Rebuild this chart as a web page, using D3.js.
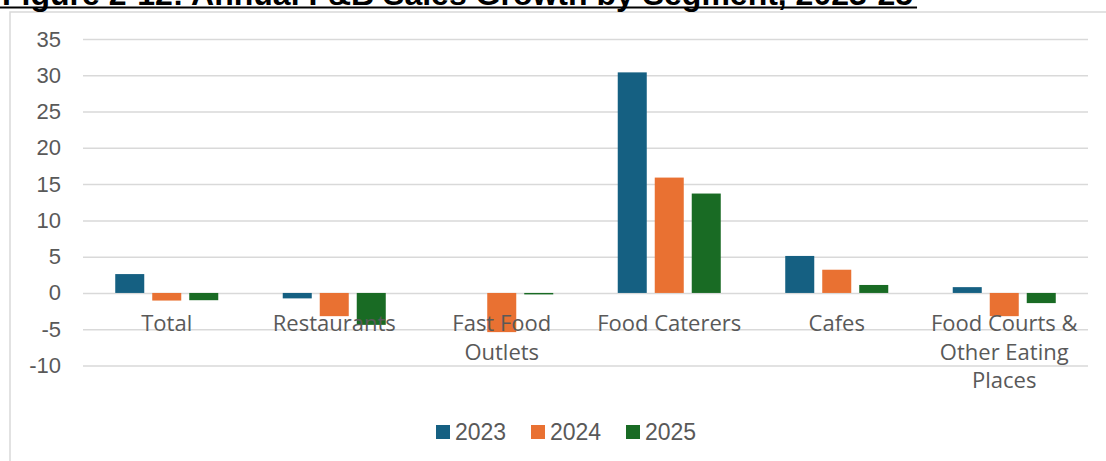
<!DOCTYPE html>
<meta charset="utf-8">
<head>
    <title>Annual F&amp;B Sales Growth by Segment</title>
    <script src="https://cdn.jsdelivr.net/npm/d3@7"></script>
</head>

<style>
    body { margin: 0; background: #fff; }
    .grid line { stroke: #D9D9D9; stroke-width: 1.5; }
    .grid text { fill: #595959; font-family: "Liberation Sans", Arial, sans-serif; font-size: 22px; }
    .cat { fill: #595959; font-family: "Open Sans", sans-serif; font-size: 22px; }
    .legend text { fill: #595959; font-family: "Liberation Sans", Arial, sans-serif; font-size: 23px; }
</style>

<svg></svg>

<script>
    // chart data
    var title = "Figure 2-12: Annual F&B Sales Growth by Segment, 2023-25";
    var categories = ["Total", "Restaurants", "Fast Food Outlets", "Food Caterers", "Cafes", "Food Courts & Other Eating Places"];
    var years = ["2023", "2024", "2025"];
    var growth2023 = [2.6, -0.75, null, 30.4, 5.1, 0.8];
    var growth2024 = [-1.05, -3.2, -5.4, 15.9, 3.2, -3.2];
    var growth2025 = [-1.0, -4.4, -0.2, 13.7, 1.1, -1.4];
    var yTicks = [-10, -5, 0, 5, 10, 15, 20, 25, 30, 35];
    var colors = ["#156082", "#E97132", "#196B24"];

    var vWidth = 1106, vHeight = 461;
    var plotLeft = 83, plotRight = 1088, plotTop = 39, plotBottom = 365.5;

    var svg = d3.select('svg').attr('width', vWidth).attr('height', vHeight);

    // chart area border and title
    svg.append('rect')
        .attr('x', 10).attr('y', 12).attr('width', 1120).attr('height', 470)
        .attr('fill', 'none').attr('stroke', '#D9D9D9').attr('stroke-width', 1.5);

    var t = svg.append('text')
        .attr('x', 2).attr('y', 5)
        .style('font-family', '"Liberation Sans", Arial, sans-serif')
        .style('font-weight', 'bold').style('font-size', '32px')
        .text(title);
    var tw = t.node().getComputedTextLength();
    svg.append('line')
        .attr('x1', 0).attr('x2', 6 + tw).attr('y1', 7.5).attr('y2', 7.5)
        .attr('stroke', '#000').attr('stroke-width', 2);

    // scales
    var y = d3.scaleLinear().domain([-10, 35]).range([plotBottom, plotTop]);
    var x0 = d3.scaleBand().domain(categories).range([plotLeft, plotRight]);
    var half = x0.bandwidth() * 0.3075;
    var x1 = d3.scaleBand().domain(years).range([-half, half]).paddingInner(0.216);

    svg.append('g')
        .attr('class', 'grid')
        .attr('transform', 'translate(' + plotLeft + ',0)')
        .call(d3.axisLeft(y).tickValues(yTicks).tickFormat(function (d) { return String(d); })
            .tickSize(-(plotRight - plotLeft)).tickPadding(22))
        .call(function (g) { g.select('.domain').remove(); });

    // bars
    var series = [growth2023, growth2024, growth2025];
    var bars = [];
    series.forEach(function (vals, s) {
        vals.forEach(function (v, i) {
            if (v !== null) bars.push({ cat: categories[i], year: years[s], value: v, color: colors[s] });
        });
    });

    svg.append('g').selectAll('rect').data(bars).enter().append('rect')
        .attr('x', function (d) { return x0(d.cat) + x0.bandwidth() / 2 + x1(d.year); })
        .attr('width', x1.bandwidth())
        .attr('y', function (d) { return y(Math.max(0, d.value)); })
        .attr('height', function (d) { return Math.abs(y(d.value) - y(0)); })
        .attr('fill', function (d) { return d.color; });

    // category labels, wrapped like the original
    var cats = svg.append('g').selectAll('text').data(categories).enter().append('text')
        .attr('class', 'cat')
        .attr('text-anchor', 'middle')
        .attr('x', function (d) { return x0(d) + x0.bandwidth() / 2; })
        .attr('y', 331);

    cats.each(function (d) {
        var el = d3.select(this), words = d.split(' '), line = [];
        var ts = el.append('tspan').attr('x', el.attr('x')).attr('dy', 0);
        words.forEach(function (w) {
            line.push(w);
            ts.text(line.join(' '));
            if (ts.node().getComputedTextLength() > 162 && line.length > 1) {
                line.pop();
                ts.text(line.join(' '));
                line = [w];
                ts = el.append('tspan').attr('x', el.attr('x')).attr('dy', 28.7).text(w);
            }
        });
    });

    // legend
    var legendX = [436, 531, 626];
    var lg = svg.append('g').attr('class', 'legend').selectAll('g').data(years).enter().append('g')
        .attr('transform', function (d, i) { return 'translate(' + legendX[i] + ',425)'; });
    lg.append('rect').attr('width', 14).attr('height', 14)
        .attr('fill', function (d, i) { return colors[i]; });
    lg.append('text').attr('x', 19).attr('y', 14.5).text(function (d) { return d; });
</script>
